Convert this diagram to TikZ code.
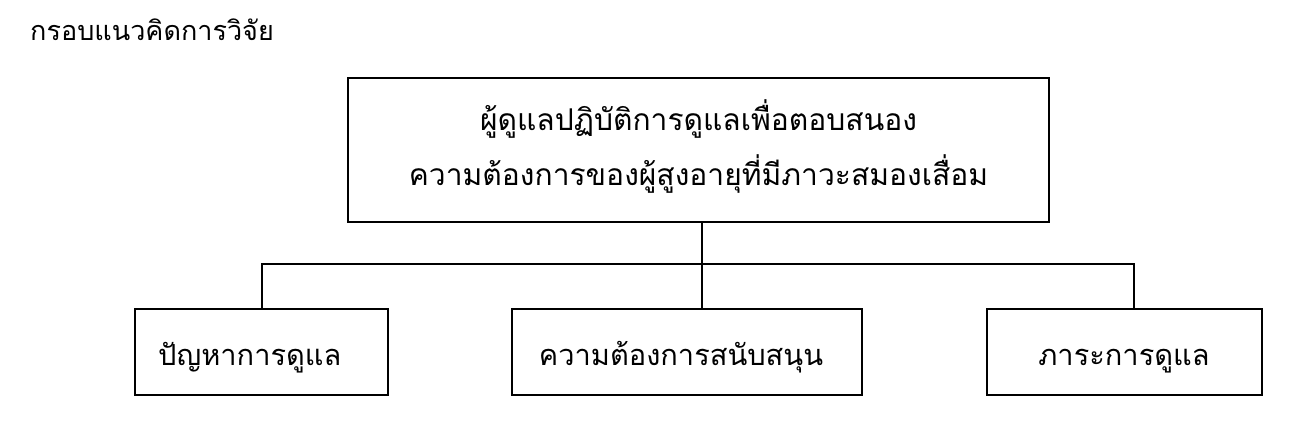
\documentclass[tikz,border=0pt]{standalone}
\usepackage{fontspec}
\newfontfamily\thaifont[Script=Thai]{Loma}
\begin{document}
\begin{tikzpicture}[x=1pt,y=-1pt,
  box/.style={draw=black,line width=2pt,inner sep=0pt},
  lbl/.style={inner sep=0pt,font=\thaifont\fontsize{29}{36}\selectfont},
  link/.style={draw=black,line width=2pt}]
\useasboundingbox (0,0) rectangle (1290,437);
\node[anchor=base west,font=\thaifont\fontsize{27}{32}\selectfont,inner sep=0pt] (title) at (30,40) {กรอบแนวคิดการวิจัย};
\node[box,minimum width=701pt,minimum height=144pt] (top) at (698.5,150) {};
\node[lbl,align=center,font=\thaifont\fontsize{30}{55}\selectfont] (toptext) at (698.5,146) {ผู้ดูแลปฏิบัติการดูแลเพื่อตอบสนอง\\ความต้องการของผู้สูงอายุที่มีภาวะสมองเสื่อม};
\node[box,minimum width=253pt,minimum height=86pt] (left) at (261.5,352) {};
\node[lbl,anchor=base west] (lefttext) at (158,365) {ปัญหาการดูแล};
\node[box,minimum width=350pt,minimum height=86pt] (mid) at (687,352) {};
\node[lbl,anchor=base] (midtext) at (681,365) {ความต้องการสนับสนุน};
\node[box,minimum width=275pt,minimum height=86pt] (right) at (1124.5,352) {};
\node[lbl,anchor=base] (righttext) at (1124,365) {ภาระการดูแล};
\coordinate (j) at (702,264);
\coordinate (jl) at (262,264);
\coordinate (jr) at (1134,264);
\draw[link] (top.south -| j) -- (j);
\draw[link,line join=miter] (left.north -| jl) -- (jl) -- (jr) -- (right.north -| jr);
\draw[link] (j) -- (mid.north -| j);
\end{tikzpicture}
\end{document}
